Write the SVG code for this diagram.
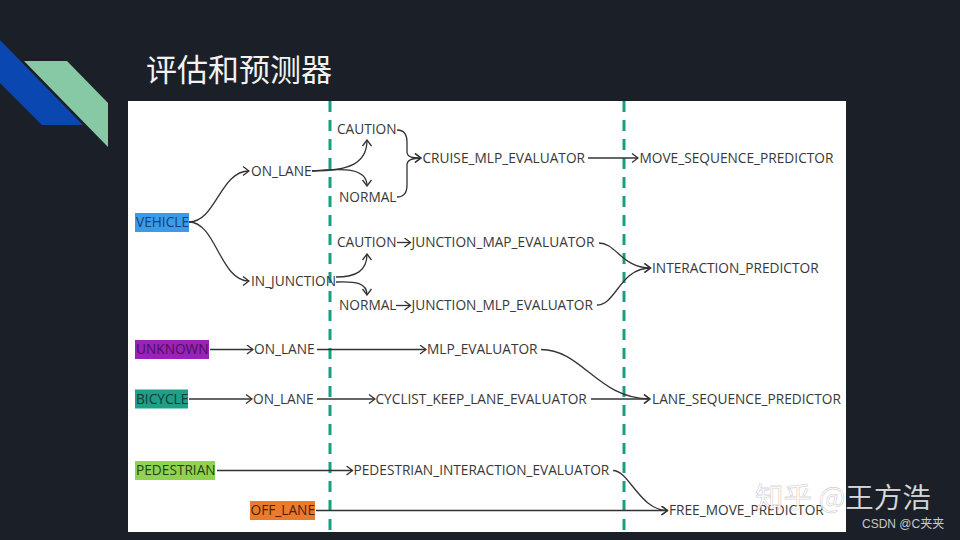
<svg xmlns="http://www.w3.org/2000/svg" width="960" height="540" viewBox="0 0 960 540">
  <defs>
    <style>
      .t { font-family: "Open Sans", "Noto Sans", "DejaVu Sans", sans-serif; font-size: 13.7px; fill: #383838; }
      .c { fill: none; stroke: #333; stroke-width: 1.3; marker-end: url(#arr); }
      .dash { stroke: #1a9e82; stroke-width: 3; stroke-dasharray: 11 8; }
    </style>
    <marker id="arr" viewBox="-7 -5 8 10" refX="0" refY="0" markerWidth="8" markerHeight="10" markerUnits="userSpaceOnUse" orient="auto">
      <path d="M-6,-4.5 L0,0 L-6,4.5" fill="none" stroke="#333" stroke-width="1.3"/>
    </marker>
  </defs>

  <rect x="0" y="0" width="960" height="540" fill="#1b1f28"/>
  <g id="decor">
    <polygon points="0,40 83,125 42,125 0,83" fill="#0a47b0"/>
    <polygon points="24,61 67,61 108,103 108,147" fill="#87c9a5"/>
  </g>
  <text id="title" x="146" y="81" font-family="'Noto Sans CJK SC', sans-serif" font-size="31" fill="#f2f2f2">评估和预测器</text>

  <rect id="panel" x="128" y="101" width="718" height="431" fill="#ffffff"/>
  <g id="phases">
    <line class="dash" x1="330" y1="101" x2="330" y2="532"/>
    <line class="dash" x1="624" y1="101" x2="624" y2="532"/>
  </g>

  <g id="connectors">
    <path class="c" d="M189,222 C216,222 220,171 249,171"/>
    <path class="c" d="M189,222 C216,222 220,281 249,281"/>
    <path class="c" d="M312,171 C350,171 367,163 367,140"/>
    <path class="c" d="M312,171 C345,168 367,168 367,186"/>
    <path class="c" d="M336,277 C356,277 367,271 367,254"/>
    <path class="c" d="M336,282 C356,281 367,283 367,295"/>
    <path class="c" d="M397,130 C404,130 407,134 407,142 L407,152 C407,157 412,158 421,158"/>
    <path class="c" d="M397,197 C403,197 407,193 407,185 L407,165 C407,160 412,158 421,158"/>
    <path class="c" d="M588,158 L638,158"/>
    <path class="c" d="M397,242.5 L410.5,242.5"/>
    <path class="c" d="M396,305.5 L410.5,305.5"/>
    <path class="c" d="M599,243 C616,243 622,268 650.5,268"/>
    <path class="c" d="M597,305 C616,305 620,268 650.5,268"/>
    <path class="c" d="M210,349.5 L253,349.5"/>
    <path class="c" d="M317,349.5 L426,349.5"/>
    <path class="c" d="M541,349.5 C582,349.5 598,399 650,399"/>
    <path class="c" d="M189,399 L252,399"/>
    <path class="c" d="M317,399 L375,399"/>
    <path class="c" d="M591,399 L650,399"/>
    <path class="c" d="M217,470.5 L352.5,470.5"/>
    <path class="c" d="M613,470.5 C629,470.5 640,510.5 667.5,510.5"/>
    <path class="c" d="M316,510.5 L667.5,510.5"/>
  </g>

  <g id="vehicle"><rect x="135" y="213" width="54" height="19" fill="#3a9be8"/><text class="t" x="136" y="227.3" style="fill:#173f73">VEHICLE</text></g>
  <g id="vehicle-on-lane"><text class="t" x="251" y="175.8">ON_LANE</text></g>
  <g id="vehicle-in-junction"><text class="t" x="251" y="285.8">IN_JUNCTION</text></g>
  <g id="lane-caution"><text class="t" x="337" y="133.8">CAUTION</text></g>
  <g id="lane-normal"><text class="t" x="339" y="201.8">NORMAL</text></g>
  <g id="cruise-mlp-evaluator"><text class="t" x="422.5" y="162.8">CRUISE_MLP_EVALUATOR</text></g>
  <g id="move-sequence-predictor"><text class="t" x="639.5" y="162.8">MOVE_SEQUENCE_PREDICTOR</text></g>
  <g id="junction-caution"><text class="t" x="337" y="247.3">CAUTION</text></g>
  <g id="junction-map-evaluator"><text class="t" x="411.5" y="247.3">JUNCTION_MAP_EVALUATOR</text></g>
  <g id="junction-normal"><text class="t" x="339" y="310.3">NORMAL</text></g>
  <g id="junction-mlp-evaluator"><text class="t" x="411.5" y="310.3">JUNCTION_MLP_EVALUATOR</text></g>
  <g id="interaction-predictor"><text class="t" x="652" y="272.8">INTERACTION_PREDICTOR</text></g>

  <g id="unknown"><rect x="135" y="340" width="74" height="19" fill="#9b22b8"/><text class="t" x="136" y="354.3" style="fill:#4a0f5a">UNKNOWN</text></g>
  <g id="unknown-on-lane"><text class="t" x="254" y="354.3">ON_LANE</text></g>
  <g id="mlp-evaluator"><text class="t" x="427" y="354.3">MLP_EVALUATOR</text></g>

  <g id="bicycle"><rect x="135" y="389.5" width="53" height="19" fill="#1f9e88"/><text class="t" x="136" y="403.8" style="fill:#0d3d35">BICYCLE</text></g>
  <g id="bicycle-on-lane"><text class="t" x="253" y="403.8">ON_LANE</text></g>
  <g id="cyclist-keep-lane-evaluator"><text class="t" x="375.5" y="403.8">CYCLIST_KEEP_LANE_EVALUATOR</text></g>
  <g id="lane-sequence-predictor"><text class="t" x="652" y="403.8">LANE_SEQUENCE_PREDICTOR</text></g>

  <g id="pedestrian"><rect x="135" y="461" width="80" height="19" fill="#8fd350"/><text class="t" x="136" y="475.3" style="fill:#2a3d18">PEDESTRIAN</text></g>
  <g id="pedestrian-interaction-evaluator"><text class="t" x="353.5" y="475.3">PEDESTRIAN_INTERACTION_EVALUATOR</text></g>

  <g id="off-lane"><rect x="250" y="501" width="65" height="19" fill="#ea7a2c"/><text class="t" x="250.5" y="515.3" style="fill:#4a2408">OFF_LANE</text></g>
  <g id="free-move-predictor"><text class="t" x="669" y="515.3">FREE_MOVE_PREDICTOR</text></g>

  <g id="watermark">
    <text x="755" y="508" font-family="'Noto Sans CJK SC', sans-serif" font-size="28.5" fill="#ffffff" fill-opacity="0.85" stroke="#000000" stroke-opacity="0.18" stroke-width="0.8">知乎 @王方浩</text>
    <text x="862" y="528" font-family="'Liberation Sans', 'Noto Sans CJK SC', sans-serif" font-size="12" fill="#c8c8c8">CSDN @C夹夹</text>
  </g>
</svg>
